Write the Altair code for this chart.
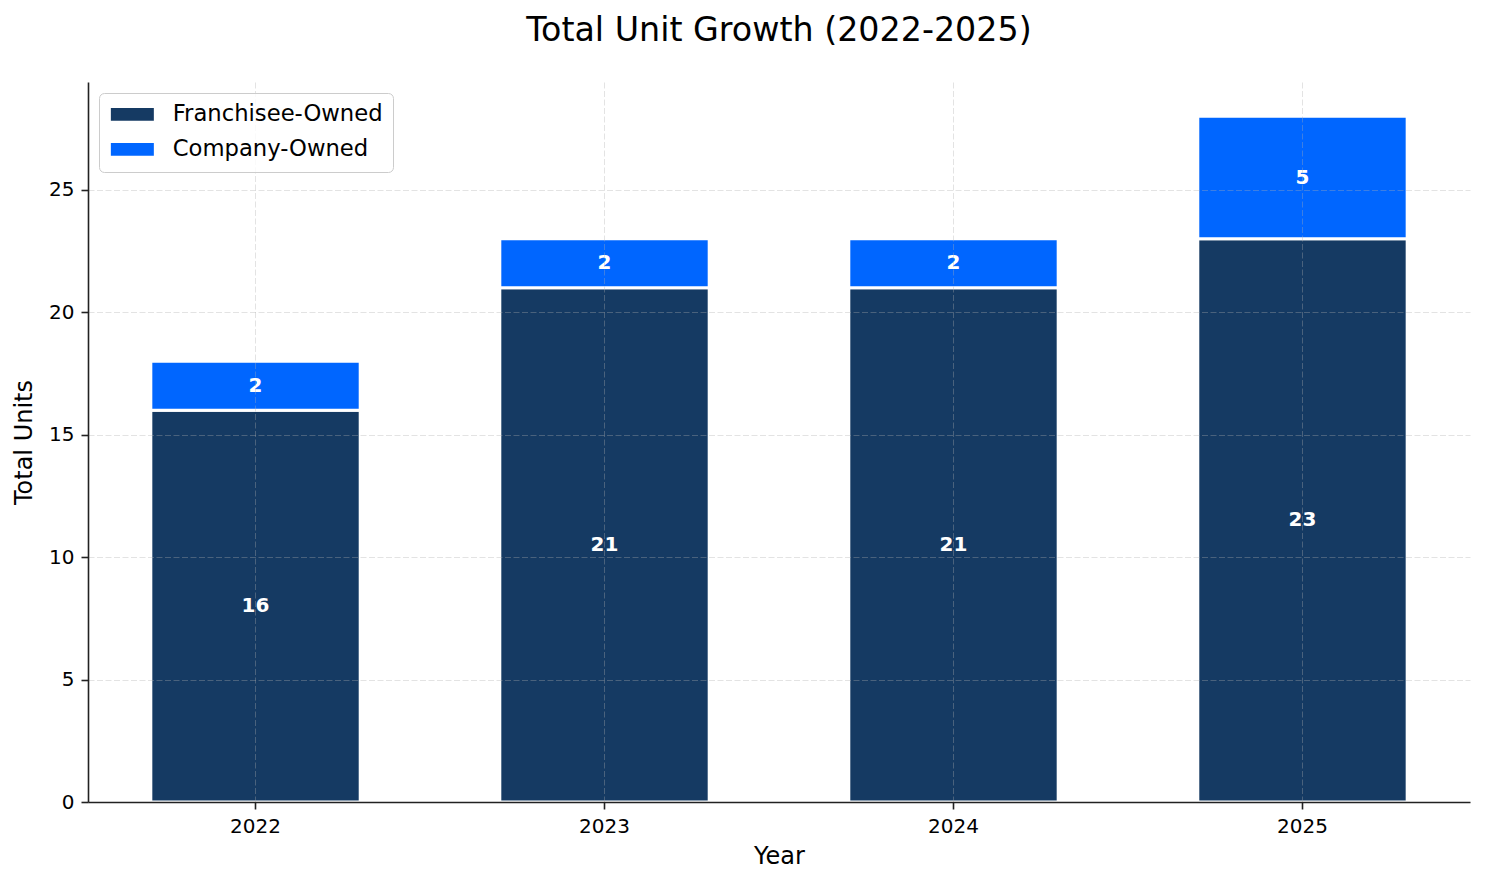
import altair as alt
import pandas as pd

years = ["2022", "2023", "2024", "2025"]
franchisee = [16, 21, 21, 23]
company = [2, 2, 2, 5]
series = ["Franchisee-Owned", "Company-Owned"]
colors = ["#153a63", "#0066ff"]

rows = []
for i, y in enumerate(years):
    f = franchisee[i]
    c = company[i]
    rows.append({"Year": y, "Type": series[0], "value": f, "y0": 0, "y1": f, "mid": f / 2})
    rows.append({"Year": y, "Type": series[1], "value": c, "y0": f, "y1": f + c, "mid": f + c / 2})
df = pd.DataFrame(rows)

xenc = alt.X(
    "Year:N",
    title="Year",
    sort=years,
    scale=alt.Scale(paddingInner=0.4, paddingOuter=0.18),
    axis=alt.Axis(labelAngle=0, grid=True, zindex=1, titlePadding=8),
)

bars = alt.Chart(df).mark_bar(stroke="white", strokeWidth=3).encode(
    x=xenc,
    y=alt.Y(
        "y0:Q",
        title="Total Units",
        scale=alt.Scale(domain=[0, 29.4], nice=False, zero=True),
        axis=alt.Axis(values=[0, 5, 10, 15, 20, 25], grid=True, zindex=1, titlePadding=12),
    ),
    y2="y1:Q",
    color=alt.Color(
        "Type:N",
        scale=alt.Scale(domain=series, range=colors),
        legend=alt.Legend(
            title=None,
            orient="top-left",
            offset=11,
            symbolType="M-2,-0.6H2V0.6H-2Z",
            symbolSize=462,
            symbolStrokeWidth=0,
            symbolOffset=12,
            labelFontSize=22.7,
            labelFont="DejaVu Sans",
            labelColor="black",
            labelOffset=29,
            labelLimit=400,
            rowPadding=11,
            padding=10,
            fillColor="rgba(255,255,255,0.8)",
            strokeColor="#cccccc",
            cornerRadius=5,
            zindex=2,
        ),
    ),
)

labels = alt.Chart(df).mark_text(
    color="white", fontWeight="bold", fontSize=20, font="DejaVu Sans", baseline="middle"
).encode(
    x=alt.X("Year:N", sort=years),
    y=alt.Y("mid:Q"),
    text=alt.Text("value:Q"),
)

chart = (
    alt.layer(bars, labels)
    .properties(
        width=1382,
        height=720,
        autosize=alt.AutoSizeParams(type="none"),
        padding={"left": 80, "top": 74, "right": 7, "bottom": 68},
        title=alt.Title(
            "Total Unit Growth (2022-2025)",
            fontSize=33.3,
            font="DejaVu Sans",
            fontWeight="normal",
            color="black",
            anchor="middle",
            baseline="alphabetic",
            offset=8,
        ),
    )
    .configure_view(stroke=None)
    .configure_axis(
        labelFont="DejaVu Sans",
        titleFont="DejaVu Sans",
        labelFontSize=20,
        titleFontSize=24,
        titleFontWeight="normal",
        labelColor="black",
        titleColor="black",
        domainColor="#222222",
        domainWidth=1.6,
        tickColor="#222222",
        tickWidth=1.6,
        tickSize=7,
        labelPadding=7,
        gridColor="#b0b0b0",
        gridOpacity=0.35,
        gridDash=[6, 2.5],
        gridWidth=1,
    )
)

chart.save("out.html", embed_options={"renderer": "svg", "actions": False})
